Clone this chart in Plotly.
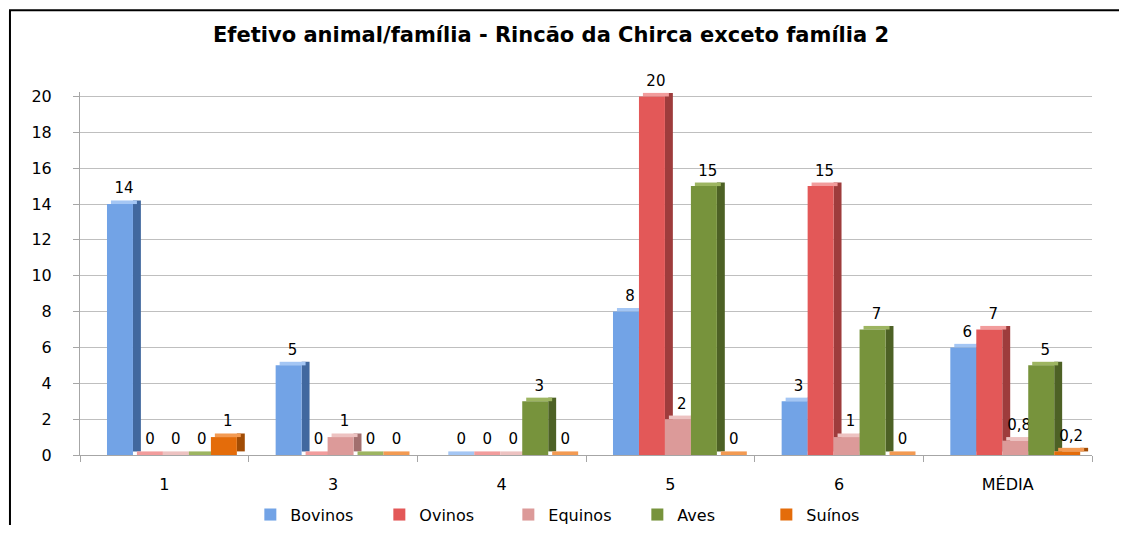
"""Efetivo animal por família - gráfico de barras agrupadas (imitação 3D)"""

import plotly.graph_objects as go

categorias = ["1", "3", "4", "5", "6", "MÉDIA"]

bovinos = [14, 5, 0, 8, 3, 6]
ovinos = [0, 0, 0, 20, 15, 7]
equinos = [0, 1, 0, 2, 1, 0.8]
aves = [0, 0, 3, 15, 7, 5]
suinos = [1, 0, 0, 0, 0, 0.2]

# nome, valores, frente, lateral, topo
series = [
    ("Bovinos", bovinos, "#72A3E6", "#41689F", "#A4C6F4"),
    ("Ovinos", ovinos, "#E35858", "#9E3C3C", "#F29C9C"),
    ("Equinos", equinos, "#DC9A99", "#A26F6E", "#EDC2C1"),
    ("Aves", aves, "#77933C", "#4D6125", "#9DB561"),
    ("Suínos", suinos, "#E46C0A", "#A14C05", "#F39A52"),
]

LARG = 0.154  # largura da face frontal (unidades de categoria)
INICIO = -0.34  # início do primeiro grupo em relação ao centro
LADO = 0.047  # largura da face lateral
PROF = 0.2  # profundidade em unidades do eixo y


def rotulo(v):
    # formato brasileiro: vírgula decimal
    return f"{v:g}".replace(".", ",")


fig = go.Figure()

# faces laterais primeiro, depois topos, depois frentes
for i, (nome, valores, frente, lateral, topo) in enumerate(series):
    fig.add_trace(
        go.Bar(
            x=categorias,
            y=valores,
            base=PROF,
            offset=INICIO + (i + 1) * LARG,
            width=LADO,
            marker=dict(color=lateral, line=dict(width=0)),
            showlegend=False,
            hoverinfo="skip",
        )
    )

for i, (nome, valores, frente, lateral, topo) in enumerate(series):
    fig.add_trace(
        go.Bar(
            x=categorias,
            y=[PROF] * len(valores),
            base=valores,
            offset=INICIO + i * LARG + LADO / 2,
            width=LARG,
            marker=dict(color=topo, line=dict(width=0)),
            text=[rotulo(v) for v in valores],
            textposition="outside",
            textfont=dict(family="DejaVu Sans", size=15, color="#000000"),
            cliponaxis=False,
            showlegend=False,
            hoverinfo="skip",
        )
    )

for i, (nome, valores, frente, lateral, topo) in enumerate(series):
    fig.add_trace(
        go.Bar(
            x=categorias,
            y=valores,
            name=nome,
            offset=INICIO + i * LARG,
            width=LARG,
            marker=dict(color=frente, line=dict(width=0)),
        )
    )

# a página tem 8px de margem no body, por isso a figura é um pouco menor
fig.update_layout(
    width=1111,
    height=517,
    margin=dict(l=72, r=27, t=84, b=70),
    paper_bgcolor="white",
    plot_bgcolor="white",
    barmode="overlay",
    title=dict(
        text="<b>Efetivo animal/família - Rincão da Chirca exceto família 2</b>",
        x=0.4888,
        xanchor="center",
        y=0.948,
        yanchor="middle",
        font=dict(family="DejaVu Sans", size=21, color="#000000"),
    ),
    showlegend=True,
    legend=dict(
        orientation="h",
        x=0.487,
        xanchor="center",
        yref="container",
        y=0.02,
        yanchor="middle",
        font=dict(family="DejaVu Sans", size=16, color="#000000"),
        itemwidth=30,
        entrywidth=84,
        traceorder="normal",
    ),
)

fig.update_yaxes(
    range=[0, 20.25],
    tickvals=list(range(0, 21, 2)),
    automargin=False,
    showgrid=True,
    gridcolor="#BFBFBF",
    gridwidth=1,
    showline=True,
    linecolor="#A6A6A6",
    ticks="outside",
    ticklen=6,
    tickcolor="#A6A6A6",
    ticklabelstandoff=18,
    tickfont=dict(family="DejaVu Sans", size=16, color="#000000"),
    zeroline=False,
)

fig.update_xaxes(
    type="category",
    range=[-0.5, 5.5],
    automargin=False,
    showline=True,
    linecolor="#A6A6A6",
    ticks="outside",
    tickson="boundaries",
    ticklen=6,
    tickcolor="#A6A6A6",
    ticklabelstandoff=15,
    tickfont=dict(family="DejaVu Sans", size=16, color="#000000"),
    showgrid=False,
)

# moldura preta em volta do gráfico
fig.add_shape(
    type="rect",
    xref="paper",
    yref="paper",
    x0=-0.0692,
    x1=1.04,
    y0=-0.3,
    y1=1.225,
    line=dict(color="#000000", width=2),
    fillcolor="rgba(0,0,0,0)",
    layer="above",
)

fig.write_html("out.html")
